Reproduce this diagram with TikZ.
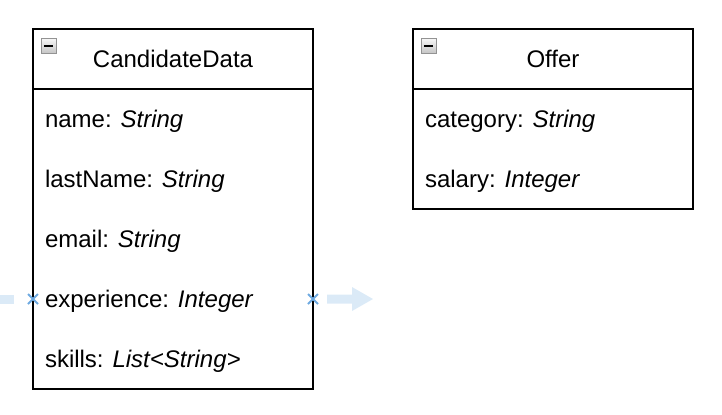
\documentclass[tikz,border=0pt]{standalone}
\usepackage{fontspec}
\setmainfont{Liberation Sans}
\usetikzlibrary{positioning,shapes.misc}
\definecolor{ghostblue}{RGB}{219,234,247}
\definecolor{hintblue}{RGB}{110,170,225}
\begin{document}
\begin{tikzpicture}[x=1pt, y=-1pt, font=\fontsize{12}{14}\selectfont,
    every node/.style={outer sep=0pt},
    classhead/.style={draw, line width=1pt, minimum width=140pt, minimum height=30pt, inner sep=0pt},
    classbody/.style={draw, line width=1pt, minimum width=140pt, inner sep=0pt},
    attr/.style={minimum width=140pt, minimum height=30pt, text width=128pt, text depth=0pt, inner xsep=6pt, inner ysep=0pt, align=flush left},
    toggle/.style={draw=gray!85, top color=gray!5, bottom color=gray!45, minimum size=7.5pt, inner sep=0pt},
    hint/.style={cross out, draw=hintblue, line width=1pt, minimum size=5pt, inner sep=0pt}]
    \useasboundingbox (0,0) rectangle (361,207);

    \node[classhead] (cand) at (86.5,29.5) {CandidateData};
    \node[classbody, minimum height=150pt, below=0pt of cand] (candBody) {};
    \node[attr, below=0pt of cand] (candName) {name: \textit{String}};
    \node[attr, below=0pt of candName] (candLast) {lastName: \textit{String}};
    \node[attr, below=0pt of candLast] (candMail) {email: \textit{String}};
    \node[attr, below=0pt of candMail] (candExp) {experience: \textit{Integer}};
    \node[attr, below=0pt of candExp] (candSkill) {skills: \textit{List<String>}};
    \node[toggle] (candToggle) at ([xshift=7.75pt, yshift=-8.25pt]cand.north west) {};
    \draw[line width=1pt] ([xshift=-2.3pt]candToggle.center) -- ([xshift=2.3pt]candToggle.center);

    \node[classhead] (offer) at (276.5,29.5) {Offer};
    \node[classbody, minimum height=60pt, below=0pt of offer] (offerBody) {};
    \node[attr, below=0pt of offer] (offerCat) {category: \textit{String}};
    \node[attr, below=0pt of offerCat] (offerSal) {salary: \textit{Integer}};
    \node[toggle] (offerToggle) at ([xshift=7.75pt, yshift=-8.25pt]offer.north west) {};
    \draw[line width=1pt] ([xshift=-2.3pt]offerToggle.center) -- ([xshift=2.3pt]offerToggle.center);

    \fill[ghostblue] (0,147.25) rectangle (7,151.75);
    \fill[ghostblue] (163.5,147.25) -- (176,147.25) -- (176,143.5) -- (186.5,149.5)
        -- (176,155.5) -- (176,151.75) -- (163.5,151.75) -- cycle;
    \node[hint] (expIn) at (candExp.west) {};
    \node[hint] (expOut) at (candExp.east) {};
\end{tikzpicture}
\end{document}
